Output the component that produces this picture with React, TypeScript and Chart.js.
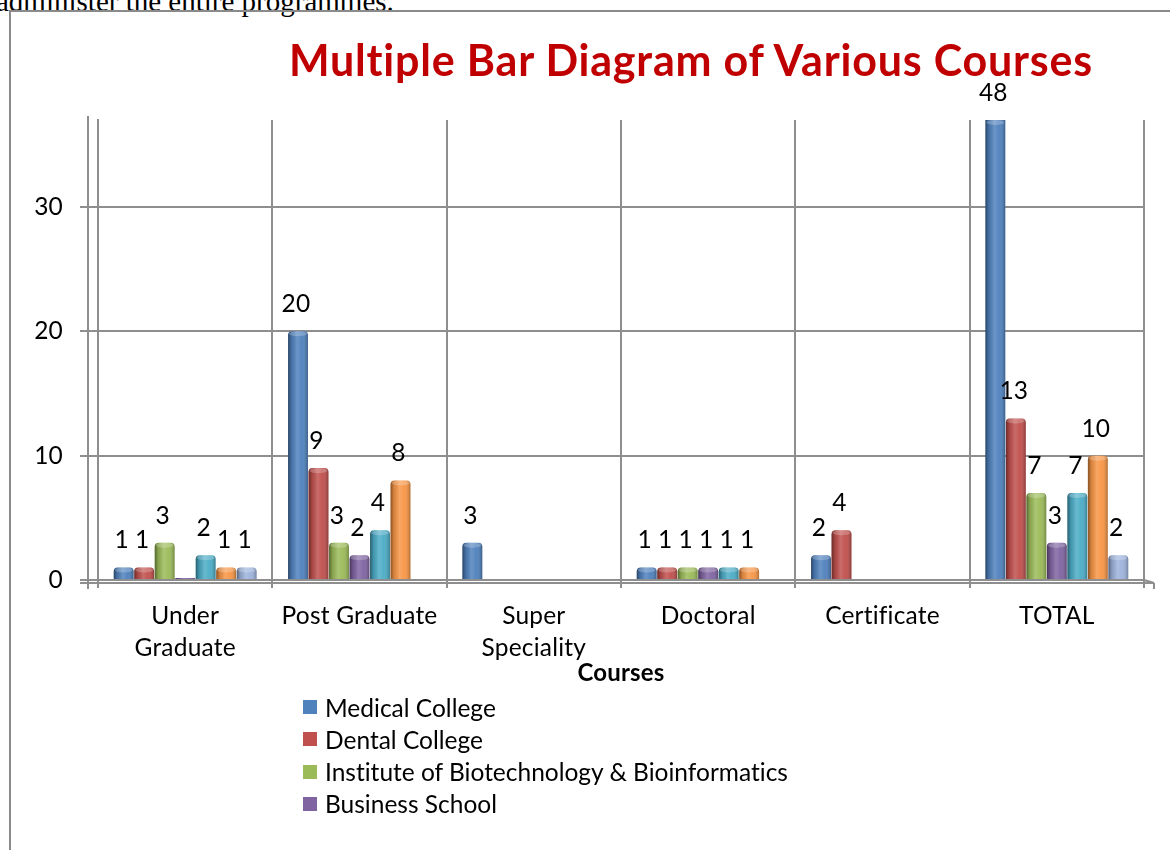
import React, { useEffect, useRef } from "react";
import { Chart, registerables } from "chart.js";

Chart.register(...registerables);

// ---------- data ----------
const categories: (string | string[])[] = [
  ["Under", "Graduate"],
  "Post Graduate",
  ["Super", "Speciality"],
  "Doctoral",
  "Certificate",
  "TOTAL",
];
const seriesNames = [
  "Medical College",
  "Dental College",
  "Institute of Biotechnology & Bioinformatics",
  "Business School",
  "Series 5",
  "Series 6",
  "Series 7",
];
const medicalCollege = [1, 20, 3, 1, 2, 48];
const dentalCollege = [1, 9, null, 1, 4, 13];
const biotechInstitute = [3, 3, null, 1, null, 7];
const businessSchool = [0, 2, null, 1, null, 3];
const series5 = [2, 4, null, 1, null, 7];
const series6 = [1, 8, null, 1, null, 10];
const series7 = [1, null, null, null, null, 2];
const seriesValues = [
  medicalCollege,
  dentalCollege,
  biotechInstitute,
  businessSchool,
  series5,
  series6,
  series7,
];
const seriesColors = [
  "#4F81BD",
  "#C0504D",
  "#9BBB59",
  "#8064A2",
  "#4BACC6",
  "#F79646",
  "#9DB3DC",
];
const legendCount = 4;
const yTicks = [0, 10, 20, 30];
const yMax = 37;

const GRID = "#8e8e8e";
const FONT = "Lato, 'Open Sans', sans-serif";
const TXT = 24.5;

function noLigatures(ctx: any) {
  try {
    ctx.textRendering = "optimizeLegibility";
    ctx.letterSpacing = "0.2px";
  } catch (e) {}
}

const wallPlugin = {
  id: "wall3d",
  beforeDraw(chart: any) {
    noLigatures(chart.ctx);
  },
  beforeDatasetsDraw(chart: any) {
    const { ctx, chartArea } = chart;
    const { left, right, top, bottom } = chartArea;
    ctx.save();
    ctx.strokeStyle = GRID;
    ctx.lineWidth = 2;
    ctx.beginPath();
    ctx.moveTo(left - 10, top - 4);
    ctx.lineTo(left - 10, bottom + 9);
    ctx.moveTo(left - 18, bottom + 3);
    ctx.lineTo(right + 10, bottom + 3);
    ctx.moveTo(right, bottom);
    ctx.lineTo(right + 10, bottom + 3);
    ctx.moveTo(right + 10, bottom + 3);
    ctx.lineTo(right + 10, bottom + 9);
    ctx.stroke();
    ctx.restore();
  },
};

const barLookPlugin = {
  id: "barLook",
  afterDatasetsDraw(chart: any) {
    const { ctx, chartArea } = chart;
    ctx.save();
    ctx.beginPath();
    ctx.rect(chartArea.left, chartArea.top, chartArea.right - chartArea.left, chartArea.bottom - chartArea.top);
    ctx.clip();
    chart.data.datasets.forEach((ds: any, di: number) => {
      const meta = chart.getDatasetMeta(di);
      meta.data.forEach((bar: any, i: number) => {
        const v = ds.data[i];
        if (v == null) return;
        const { x, y, base, width } = bar.getProps(["x", "y", "base", "width"], true);
        if (!isFinite(x) || !isFinite(y)) return;
        const l = x - width / 2;
        const h = base - y;
        if (h <= 0) return;
        const g = ctx.createLinearGradient(l, 0, l + width, 0);
        g.addColorStop(0, "rgba(0,0,0,0.45)");
        g.addColorStop(0.18, "rgba(0,0,0,0.12)");
        g.addColorStop(0.45, "rgba(255,255,255,0.16)");
        g.addColorStop(0.7, "rgba(255,255,255,0.04)");
        g.addColorStop(1, "rgba(0,0,0,0.28)");
        ctx.fillStyle = g;
        ctx.beginPath();
        if ((ctx as any).roundRect) (ctx as any).roundRect(l, y, width, h, [4, 4, 0, 0]);
        else ctx.rect(l, y, width, h);
        ctx.fill();
        if (h > 5) {
          ctx.fillStyle = "rgba(255,255,255,0.22)";
          ctx.beginPath();
          ctx.ellipse(x, Math.max(y, chartArea.top) + 2.5, width / 2 - 1, 2.5, 0, 0, Math.PI * 2);
          ctx.fill();
        }
      });
    });
    ctx.restore();

    // value labels
    ctx.save();
    noLigatures(ctx);
    ctx.font = `${TXT}px ${FONT}`;
    ctx.fillStyle = "#000";
    ctx.textAlign = "center";
    ctx.textBaseline = "middle";
    chart.data.datasets.forEach((ds: any, di: number) => {
      const meta = chart.getDatasetMeta(di);
      meta.data.forEach((bar: any, i: number) => {
        const v = ds.data[i];
        if (v == null || v === 0) return;
        const { x, y } = bar.getProps(["x", "y"], true);
        const topY = Math.max(y, chartArea.top);
        ctx.fillText(String(v), x - 2, topY - 27);
      });
    });
    ctx.restore();
  },
};

export default function App() {
  const canvasRef = useRef<HTMLCanvasElement | null>(null);

  useEffect(() => {
    if (!canvasRef.current) return;
    Chart.defaults.font.family = FONT;
    const chart = new Chart(canvasRef.current, {
      type: "bar",
      data: {
        labels: categories,
        datasets: seriesValues.map((vals, i) => ({
          label: seriesNames[i],
          data: vals,
          backgroundColor: seriesColors[i],
          borderRadius: 4,
          borderSkipped: "start",
          minBarLength: i === 3 ? 2 : 0,
        })),
      },
      options: {
        animation: false,
        responsive: false,
        maintainAspectRatio: false,
        layout: { padding: { top: 120, right: 26, left: 0, bottom: 0 } },
        datasets: { bar: { categoryPercentage: 0.823, barPercentage: 0.97 } },
        plugins: {
          legend: { display: false },
          tooltip: { enabled: false },
          title: { display: false },
        },
        scales: {
          x: {
            grid: { offset: true, color: GRID, lineWidth: 2, tickLength: 8, drawTicks: true },
            border: { display: true, color: GRID, width: 2 },
            ticks: {
              font: { size: TXT, lineHeight: 1.306 },
              color: "#000",
              padding: 12,
              maxRotation: 0,
              autoSkip: false,
            },
            title: {
              display: true,
              text: "Courses",
              color: "#000",
              font: { size: 24, weight: "bold", lineHeight: 1.2 },
              padding: { top: 0, bottom: 12 },
            },
            afterFit: (s: any) => {
              s.height = 120;
            },
          },
          y: {
            min: 0,
            max: yMax,
            afterBuildTicks: (s: any) => {
              s.ticks = yTicks.map((v) => ({ value: v }));
            },
            grid: { color: GRID, lineWidth: 2, tickLength: 18 },
            border: { display: true, color: GRID, width: 2 },
            ticks: { font: { size: TXT }, color: "#000", padding: 17 },
            afterFit: (s: any) => {
              s.width = 98;
            },
          },
        },
      } as any,
      plugins: [wallPlugin, barLookPlugin],
    });
    let alive = true;
    if ((document as any).fonts) {
      Promise.all([
        (document as any).fonts.load(`24px Lato`),
        (document as any).fonts.load(`bold 24px Lato`),
      ]).then(() => {
        if (alive) chart.update();
      });
    }
    return () => {
      alive = false;
      chart.destroy();
    };
  }, []);

  const textBase: React.CSSProperties = {
    fontFamily: FONT,
    fontVariantLigatures: "none",
    whiteSpace: "nowrap",
    color: "#000",
  };

  return (
    <div
      style={{
        position: "fixed",
        left: 0,
        top: 0,
        width: 1170,
        height: 850,
        overflow: "hidden",
        background: "#fff",
      }}
    >
      <div
        style={{
          position: "absolute",
          left: -4,
          top: -13,
          fontFamily: "'Liberation Serif', 'Times New Roman', serif",
          fontSize: 29,
          lineHeight: "29px",
          whiteSpace: "nowrap",
          color: "#000",
        }}
      >
        administer the entire programmes.
      </div>
      <div
        style={{
          position: "absolute",
          left: 9,
          top: 10,
          width: 1300,
          height: 1000,
          borderLeft: "2px solid #8a8a8a",
          borderTop: "2px solid #8a8a8a",
        }}
      />
      <canvas
        ref={canvasRef}
        width={1170}
        height={700}
        style={{ position: "absolute", left: 0, top: 0, width: 1170, height: 700 }}
      />
      <div
        style={{
          ...textBase,
          position: "absolute",
          left: 191,
          top: 34,
          width: 1000,
          textAlign: "center",
          fontWeight: 700,
          fontSize: 43,
          letterSpacing: "0.8px",
          lineHeight: 1.2,
          color: "#C00000",
        }}
      >
        Multiple Bar Diagram of Various Courses
      </div>
      {seriesNames.slice(0, legendCount).map((name, i) => (
        <div
          key={name}
          style={{
            ...textBase,
            position: "absolute",
            left: 303,
            top: 691 + i * 32.3,
            height: 32,
            display: "flex",
            alignItems: "center",
            fontSize: TXT,
          }}
        >
          <span
            style={{
              display: "inline-block",
              width: 14,
              height: 14,
              background: seriesColors[i],
              marginRight: 8,
            }}
          />
          <span>{name}</span>
        </div>
      ))}
    </div>
  );
}
